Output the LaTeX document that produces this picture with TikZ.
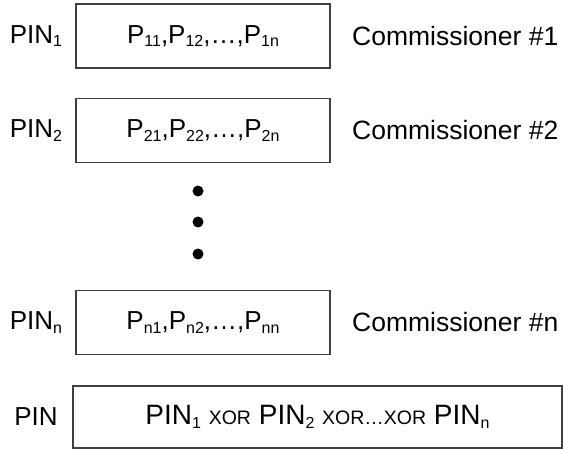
\documentclass[tikz,border=0pt]{standalone}
\usepackage{fontspec}
\setmainfont{Liberation Sans}

\begin{document}
\begin{tikzpicture}[x=1pt, y=-1pt,
  every node/.style={font=\fontsize{26}{30}\selectfont, inner sep=0pt},
  sharebox/.style={draw=black!75, line width=1.4pt, minimum width=254pt, minimum height=64pt},
  dot/.style={circle, fill=black, minimum size=11pt}]

%─────────────
% Controls
%─────────────
\def\boxx{203}     % centre of the share boxes
\def\comx{352}     % left edge of the commissioner names
\def\pinx{36}      % centre of the PIN labels

% lowered index, e.g. PIN_1
\newcommand{\idx}[1]{\raisebox{-3.5pt}{\fontsize{16}{16}\selectfont #1}}
% small-caps style XOR
\newcommand{\xorop}[1]{{\fontsize{19.5}{20}\selectfont #1}}

%─────────────────────────────────────────────────────────────
% One row: PIN label, box of shares, commissioner name
%─────────────────────────────────────────────────────────────
\newcommand{\drawShare}[2]{%
  \node[sharebox] (box#1) at (\boxx,#2)
    {P\idx{#11},P\idx{#12},…,P\idx{#1n}};
  \node (pin#1) at (\pinx,#2) {PIN\idx{#1}};
  \node[anchor=west, font=\fontsize{26.5}{30}\selectfont] (com#1) at (\comx,#2)
    {Commissioner \##1};
}

\useasboundingbox (0,0) rectangle (563,450);

%─────────────
% Rows for commissioners 1, 2 and n
%─────────────
\drawShare{1}{36}
\drawShare{2}{130.5}
\drawShare{n}{322.5}

% vertical ellipsis
\foreach \y [count=\k] in {191,222,254} {
  \node[dot] (dot\k) at (198,\y) {};
}

%─────────────
% Combined PIN
%─────────────
\node (pin) at (\pinx,417) {PIN};
\node[sharebox, minimum width=489pt, minimum height=62pt,
      font=\fontsize{28}{30}\selectfont] (pinbox) at (317.5,417)
  {PIN\idx{1} \xorop{XOR} PIN\idx{2} \xorop{XOR…XOR} PIN\idx{n}};

\end{tikzpicture}
\end{document}
